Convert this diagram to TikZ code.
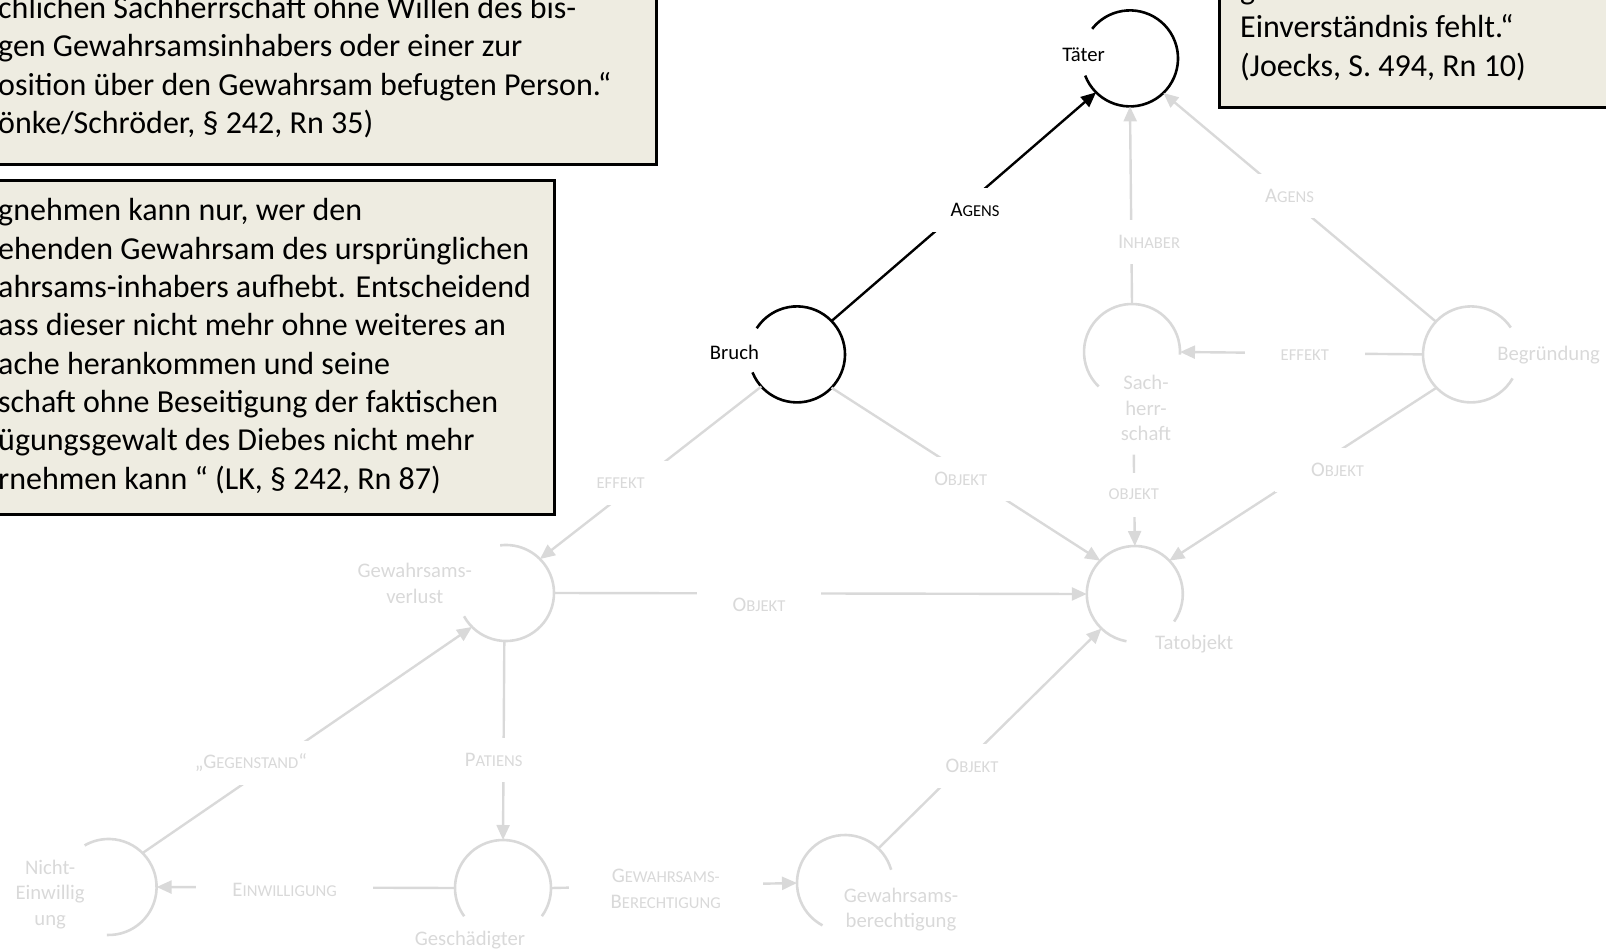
\documentclass[tikz,border=0pt]{standalone}
\usepackage{fontspec}
\setmainfont{Carlito}
\usetikzlibrary{arrows.meta}
\definecolor{lg}{RGB}{217,217,217}
\definecolor{paper}{RGB}{238,236,225}
\newcommand\nodefont{\fontsize{20.7}{25.6}\selectfont}
\newcommand\quotefont{\fontsize{32}{38.3}\selectfont}
\newcommand\capbig[1]{{\fontsize{20.7}{25.6}\selectfont #1}}
\newcommand\capsmall[1]{{\fontsize{16.6}{25.6}\selectfont #1}}

\begin{document}
\begin{tikzpicture}[x=1pt,y=1pt,
  hub/.style={circle, minimum size=96pt, inner sep=0pt, outer sep=0pt},
  ring/.style={line width=2.6pt, draw=lg},
  darkring/.style={line width=2.6pt, draw=black},
  link/.style={line width=2.4pt, draw=lg},
  darklink/.style={line width=2.4pt, draw=black},
  headed/.style={-{Triangle[length=15pt,width=13pt]}},
  tag/.style={fill=white, text=lg, inner xsep=36pt, inner ysep=0pt, minimum height=44pt, font=\nodefont, align=center, yshift=-2pt},
  nodetext/.style={text=lg, align=center, font=\nodefont, yshift=-2.5pt},
  quote/.style={anchor=base west, inner sep=0pt, font=\quotefont},
  quotebox/.style={line width=3pt, draw=black, fill=paper}]
\useasboundingbox (0,0) rectangle (1606,-949);
\clip (0,0) rectangle (1606,-949);

% quotation boxes
\draw[quotebox] (-20,20) rectangle (656.5,-165);
\node[quote] (qa1) at (-2,-18.5) {chlichen Sachherrschaft ohne Willen des bis-};
\node[quote] (qa2) at (-2,-56.8) {gen Gewahrsamsinhabers oder einer zur};
\node[quote] (qa3) at (-2,-95.1) {osition über den Gewahrsam befugten Person.“};
\node[quote] (qa4) at (-2,-133.4) {önke/Schröder, § 242, Rn 35)};

\draw[quotebox] (-20,-181) rectangle (554,-514);
\node[quote] (qb1) at (-2,-221) {gnehmen kann nur, wer den};
\node[quote] (qb2) at (-2,-259.3) {ehenden Gewahrsam des ursprünglichen};
\node[quote] (qb3) at (-2,-297.6) {ahrsams-inhabers aufhebt. Entscheidend};
\node[quote] (qb4) at (-2,-335.9) {ass dieser nicht mehr ohne weiteres an};
\node[quote] (qb5) at (-2,-374.2) {ache herankommen und seine};
\node[quote] (qb6) at (-2,-412.5) {schaft ohne Beseitigung der faktischen};
\node[quote] (qb7) at (-2,-450.8) {ügungsgewalt des Diebes nicht mehr};
\node[quote] (qb8) at (-2,-489.1) {rnehmen kann “ (LK, § 242, Rn 87)};

\draw[quotebox] (1219,20) rectangle (1630,-107.5);
\node[quote] (qc0) at (1240,0.3) {g};
\node[quote] (qc1) at (1240,-38) {Einverständnis fehlt.“};
\node[quote] (qc2) at (1240,-76.3) {(Joecks, S. 494, Rn 10)};

% concept nodes
\node[hub] (tater) at (1130,-58.4) {};
\node[hub] (bruch) at (797,-354.4) {};
\node[hub] (sach) at (1132,-352) {};
\node[hub] (begr) at (1471,-354.4) {};
\node[hub] (gv) at (506,-593) {};
\node[hub] (tat) at (1134.8,-594) {};
\node[hub] (nein) at (108.6,-887) {};
\node[hub] (gesch) at (503,-888) {};
\node[hub] (gber) at (845,-883) {};
\coordinate (sachfoot) at (1133.8,-454.7);

% open rings
\draw[darkring] (tater.201) arc[start angle=201, end angle=502, radius=48];
\draw[darkring] (bruch.202) arc[start angle=202, end angle=507, radius=48];
\draw[ring] (sach.357) arc[start angle=357, end angle=586, radius=48];
\draw[ring] (begr.34) arc[start angle=34, end angle=330, radius=48];
\draw[ring] (gv.209) arc[start angle=209, end angle=457, radius=48];
\draw[ring] (tat.325) arc[start angle=325, end angle=620, radius=48];
\draw[ring] (nein.268) arc[start angle=268, end angle=480, radius=48];
\draw[ring] (gesch.324) arc[start angle=324, end angle=576, radius=48];
\draw[ring] (gber.16) arc[start angle=16, end angle=242, radius=48];

% node names
\node[nodetext, text=black] (taterlbl) at (1083.6,-52.2) {Täter};
\node[nodetext, text=black] (bruchlbl) at (734.4,-350.3) {Bruch};
\node[nodetext] (sachlbl) at (1146,-405.6) {Sach-\\herr-\\schaft};
\node[nodetext] (begrlbl) at (1548.6,-352.3) {Begründung};
\node[nodetext] (gvlbl) at (414.8,-581) {Gewahrsams-\\verlust};
\node[nodetext] (tatlbl) at (1194.3,-642) {Tatobjekt};
\node[nodetext] (neinlbl) at (50.2,-892) {Nicht-\\Einwillig\\ung};
\node[nodetext] (geschlbl) at (470,-938) {Geschädigter};
\node[nodetext] (gberlbl) at (901,-907) {Gewahrsams-\\berechtigung};

% relations
\draw[darklink, headed] (bruch.44) -- (tater.225);
\draw[link, headed] (begr.137) -- (tater.314);
\draw[link, headed] (sach.90) -- (tater.270);
\draw[link, headed] (begr.180) -- (sach.0);
\draw[link, headed] (begr.224) -- (tat.44);
\draw[link, headed] (sachfoot) -- (tat.90);
\draw[link, headed] (bruch.316) -- (tat.136);
\draw[link, headed] (bruch.222) -- (gv.45);
\draw[link, headed] (gv.0) -- (tat.180);
\draw[link, headed] (gv.268) -- (gesch.90);
\draw[link, headed] (nein.45) -- (gv.225);
\draw[link, headed] (gesch.180) -- (nein.0);
\draw[link, headed] (gesch.0) -- (gber.180);
\draw[link, headed] (gber.46) -- (tat.226);

% relation labels
\node[tag, text=black] (r1) at (975,-208) {\capbig{A}\capsmall{GENS}};
\node[tag] (r2) at (1289.5,-193.6) {\capbig{A}\capsmall{GENS}};
\node[tag] (r3) at (1149,-239.7) {\capbig{I}\capsmall{NHABER}};
\node[tag] (r4) at (1304.8,-353.3) {\capsmall{EFFEKT}};
\node[tag] (r5) at (1337.6,-468) {\capbig{O}\capsmall{BJEKT}};
\node[tag] (r6) at (1133.8,-492.6) {\capsmall{OBJEKT}};
\node[tag] (r7) at (960.7,-477.3) {\capbig{O}\capsmall{BJEKT}};
\node[tag] (r8) at (620.7,-481.4) {\capsmall{EFFEKT}};
\node[tag] (r9) at (759,-603.3) {\capbig{O}\capsmall{BJEKT}};
\node[tag] (r10) at (493.7,-758) {\capbig{P}\capsmall{ATIENS}};
\node[tag] (r11) at (251,-761) {\capbig{„G}\capsmall{EGENSTAND}\capbig{“}};
\node[tag] (r12) at (284.7,-888) {\capbig{E}\capsmall{INWILLIGUNG}};
\node[tag, inner xsep=42pt] (r13) at (665.7,-887) {\capbig{G}\capsmall{EWAHRSAMS-}\\\capbig{B}\capsmall{ERECHTIGUNG}};
\node[tag] (r14) at (972,-764) {\capbig{O}\capsmall{BJEKT}};
\end{tikzpicture}
\end{document}
